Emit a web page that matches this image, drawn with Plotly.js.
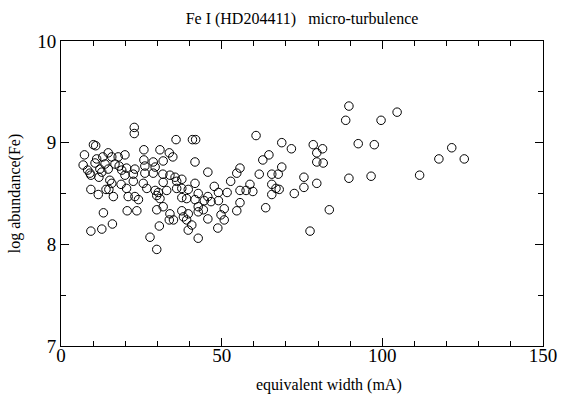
<!DOCTYPE html>
<html>
<head>
<meta charset="utf-8">
<script src="https://cdn.plot.ly/plotly-3.0.1.min.js"></script>
<style>html,body{margin:0;padding:0;background:#fff;}#chart{width:562px;height:403px;}</style>
</head>
<body>
<div id="chart"></div>
<script>
// equivalent width (mA)
const ew = [
10.1,10.8,7.3,11.1,13.0,14.7,15.8,17.8,6.9,10.6,13.7,16.8,18.1,8.3,9.0,12.1,12.7,14.7,9.3,11.8,
15.2,15.8,18.7,14.9,9.3,11.6,14.0,16.3,13.2,9.3,12.7,16.0,
22.8,22.8,35.8,25.8,30.8,33.7,34.8,19.9,25.8,28.7,31.8,20.4,23.0,26.1,29.3,18.9,22.5,28.7,
31.7,33.9,35.5,37.6,19.9,22.5,26.1,31.8,36.0,25.6,26.7,29.3,30.3,32.9,36.0,37.6,20.4,20.9,23.0,24.1,
29.8,30.8,37.6,20.6,23.6,29.8,31.8,33.9,35.0,33.7,37.6,38.1,30.6,27.7,29.8,
40.9,41.9,41.7,45.7,55.7,54.7,52.8,41.7,47.7,39.6,42.7,45.7,49.0,51.7,55.7,57.6,39.1,41.7,44.6,46.7,
49.0,42.7,44.3,50.8,55.7,39.6,42.7,49.8,45.7,50.8,54.7,39.1,40.7,39.6,48.8,42.7,
60.7,68.7,71.7,64.7,62.8,68.7,61.7,65.6,67.6,58.8,65.6,66.9,67.9,59.7,65.6,72.6,63.7,
78.5,79.6,81.4,79.6,81.6,75.6,75.6,79.6,77.5,83.5,
89.6,88.6,99.6,104.6,92.5,97.5,89.6,96.5,
121.6,117.6,125.5,111.6
];
// log abundance (Fe)
const logab = [
8.98,8.97,8.88,8.84,8.86,8.90,8.86,8.86,8.78,8.80,8.79,8.79,8.77,8.73,8.70,8.74,8.71,8.74,8.68,8.66,
8.63,8.60,8.59,8.54,8.54,8.49,8.54,8.47,8.31,8.13,8.15,8.20,
9.15,9.09,9.03,8.93,8.93,8.90,8.86,8.88,8.83,8.81,8.82,8.75,8.74,8.77,8.76,8.73,8.69,8.70,
8.69,8.68,8.66,8.64,8.68,8.62,8.70,8.61,8.62,8.60,8.55,8.53,8.51,8.53,8.55,8.55,8.55,8.47,8.47,8.44,
8.48,8.45,8.46,8.33,8.33,8.34,8.37,8.30,8.24,8.24,8.33,8.27,8.18,8.07,7.95,
9.03,9.03,8.81,8.71,8.75,8.70,8.62,8.60,8.57,8.54,8.50,8.47,8.51,8.51,8.53,8.53,8.45,8.44,8.43,8.42,
8.43,8.37,8.34,8.35,8.41,8.30,8.32,8.29,8.25,8.24,8.33,8.24,8.19,8.14,8.16,8.06,
9.07,9.00,8.94,8.88,8.83,8.76,8.69,8.69,8.69,8.59,8.59,8.55,8.54,8.52,8.49,8.50,8.36,
8.98,8.90,8.94,8.81,8.80,8.66,8.56,8.60,8.13,8.34,
9.36,9.22,9.22,9.30,8.99,8.98,8.65,8.67,
8.95,8.84,8.84,8.68
];

const fontFam = '"Liberation Serif", "Times New Roman", serif';
const axisCommon = {
  showline: true, linecolor: '#000', linewidth: 1,
  mirror: 'allticks', ticks: 'inside', ticklen: 8, tickwidth: 1, tickcolor: '#000',
  showgrid: false, zeroline: false,
  tickfont: {family: fontFam, size: 19, color: '#000'}
};

const trace = {
  x: ew, y: logab, type: 'scatter', mode: 'markers',
  marker: {symbol: 'circle-open', size: 8.5, color: '#000', line: {width: 1, color: '#000'}},
  hoverinfo: 'x+y'
};

const layout = {
  width: 562, height: 403,
  margin: {l: 61, r: 19, t: 41, b: 57},
  paper_bgcolor: '#fff', plot_bgcolor: '#fff',
  showlegend: false,
  title: {text: 'Fe I (HD204411)&nbsp;&nbsp; micro-turbulence', font: {family: fontFam, size: 16, color: '#000'},
          x: 0.5, xref: 'paper', y: 0.955, yref: 'container', yanchor: 'middle'},
  xaxis: Object.assign({}, axisCommon, {
    range: [0, 150], tickmode: 'linear', tick0: 0, dtick: 50,
    ticklabelstandoff: -8,
    minor: {dtick: 10, ticklen: 5, tickcolor: '#000', ticks: 'inside', showgrid: false}
  }),
  yaxis: Object.assign({}, axisCommon, {
    range: [7, 10], tickmode: 'linear', tick0: 7, dtick: 1,
    minor: {dtick: 0.5, ticklen: 5, tickcolor: '#000', ticks: 'inside', showgrid: false},
    title: {text: 'log abundance(Fe)', font: {family: fontFam, size: 16, color: '#000'}, standoff: 12}
  }),
  annotations: [{
    text: 'equivalent width (mA)', xref: 'paper', yref: 'paper',
    x: 0.555, y: -0.128, xanchor: 'center', yanchor: 'middle', showarrow: false,
    font: {family: fontFam, size: 16, color: '#000'}
  }]
};

Plotly.newPlot('chart', [trace], layout, {displayModeBar: false, staticPlot: true});
</script>
</body>
</html>
